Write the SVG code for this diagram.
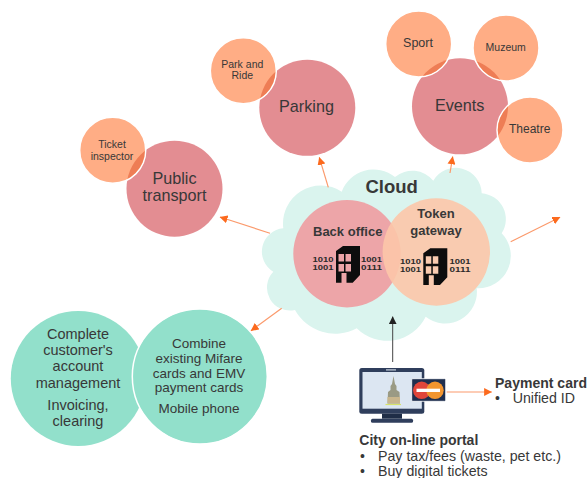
<svg xmlns="http://www.w3.org/2000/svg" xmlns:xlink="http://www.w3.org/1999/xlink" width="587" height="478" viewBox="0 0 587 478">
<style>
text{font-family:"Liberation Sans",Arial,sans-serif;fill:#383838;text-anchor:middle}
.big{fill:#e38d92}
.small{fill:#ffad85;stroke:#fff;stroke-width:1.5}
.lens{fill:#ee7d55}
.green{fill:#92e0cb}
.b{font-weight:700}
.l{text-anchor:start}
.bin{font-size:7.6px;font-weight:700;fill:#2a2a2a}
.con{fill:none;stroke:#fb9a6c;stroke-width:1.2}
</style>
<defs>
<marker id="ah" viewBox="0 0 10 10" refX="9.5" refY="5" markerWidth="8" markerHeight="8" markerUnits="userSpaceOnUse" orient="auto"><path d="M0 0L10 5L0 10Z" fill="#fc6a1e"/></marker>
<marker id="ak" viewBox="0 0 10 10" refX="9.5" refY="5" markerWidth="8" markerHeight="8" markerUnits="userSpaceOnUse" orient="auto"><path d="M0 0L10 5L0 10Z" fill="#222"/></marker>
<clipPath id="cPT"><circle cx="174.5" cy="188.7" r="48"/></clipPath>
<clipPath id="cPK"><circle cx="307.3" cy="107.8" r="48"/></clipPath>
<clipPath id="cEV"><circle cx="460" cy="106.3" r="48"/></clipPath>
<g id="bld">
<path fill-rule="evenodd" fill="#0d0d0d" d="M0 5L7 0H24V29L16.700 36.700H10.500V27H5.500V36.700H0ZM2.500 8V15.500H8V8ZM9.500 8V15.500H15V8ZM2.500 18V25.500H8V18ZM9.500 18V25.500H15V18Z"/>
</g>
</defs>

<g id="public-transport">
<circle class="big" cx="174.500" cy="188.700" r="48"/>
<text font-size="16.200" x="174.500" y="184.300">Public</text>
<text font-size="16.200" x="174.500" y="201">transport</text>
</g>
<g id="ticket-inspector">
<circle class="small" cx="112.700" cy="150.300" r="33"/>
<circle class="lens" cx="112.700" cy="150.300" r="32.200" clip-path="url(#cPT)"/>
<text font-size="10.500" x="112" y="148.300">Ticket</text>
<text font-size="10.500" x="112" y="159.700">inspector</text>
</g>
<g id="parking">
<circle class="big" cx="307.300" cy="107.800" r="48"/>
<text font-size="16.200" x="306.500" y="112.300">Parking</text>
</g>
<g id="park-and-ride">
<circle class="small" cx="243.300" cy="70.700" r="33"/>
<circle class="lens" cx="243.300" cy="70.700" r="32.200" clip-path="url(#cPK)"/>
<text font-size="10.500" x="242.300" y="67.700">Park and</text>
<text font-size="10.500" x="242.300" y="79">Ride</text>
</g>
<g id="events">
<circle class="big" cx="460" cy="106.300" r="48"/>
<text font-size="16.200" x="459.700" y="111">Events</text>
</g>
<g id="sport">
<circle class="small" cx="418.700" cy="44" r="33"/>
<circle class="lens" cx="418.700" cy="44" r="32.200" clip-path="url(#cEV)"/>
<text font-size="12.500" x="418" y="47">Sport</text>
</g>
<g id="muzeum">
<circle class="small" cx="506" cy="48" r="33"/>
<circle class="lens" cx="506" cy="48" r="32.200" clip-path="url(#cEV)"/>
<text font-size="10.500" x="505.700" y="51">Muzeum</text>
</g>
<g id="theatre">
<circle class="small" cx="530" cy="130" r="33"/>
<circle class="lens" cx="530" cy="130" r="32.200" clip-path="url(#cEV)"/>
<text font-size="12" x="529.700" y="133.300">Theatre</text>
</g>

<g id="cloud">
<path fill="#daf4ee" d="M283.300 228.300A38 38 0 0 1 341.700 191.700A34 34 0 0 1 395 177A27 27 0 0 1 433.300 180.700A26 26 0 0 1 481.700 193.300A26 26 0 0 1 501.700 233.300A32.500 32.500 0 0 1 476.700 288.300A31.600 31.600 0 0 1 425.700 316.700A43 43 0 0 1 356.700 328.300A46 46 0 0 1 295 310A23 23 0 0 1 273.300 271.700A23.400 23.400 0 0 1 283.300 228.300Z"/>
<text class="b" font-size="18.500" x="391.700" y="193.300">Cloud</text>
</g>
<g id="back-office">
<circle cx="347" cy="253.700" r="53.700" fill="#eda5a8"/>
<text class="b" font-size="13" x="347.700" y="236">Back office</text>
<text class="bin" x="323" y="261.700" textLength="21" lengthAdjust="spacingAndGlyphs">1010</text>
<text class="bin" x="323" y="270.300" textLength="21" lengthAdjust="spacingAndGlyphs">1001</text>
<text class="bin" x="371.500" y="261.700" textLength="21" lengthAdjust="spacingAndGlyphs">1001</text>
<text class="bin" x="371.500" y="270.300" textLength="21" lengthAdjust="spacingAndGlyphs">0111</text>
<use xlink:href="#bld" href="#bld" x="336" y="246"/>
</g>
<g id="token-gateway">
<circle cx="436.300" cy="252" r="53.700" fill="#fcc7a9" fill-opacity="0.9"/>
<text class="b" font-size="13" x="436" y="218">Token</text>
<text class="b" font-size="13" x="436" y="235">gateway</text>
<text class="bin" x="410.500" y="263.700" textLength="21" lengthAdjust="spacingAndGlyphs">1010</text>
<text class="bin" x="410.500" y="272.300" textLength="21" lengthAdjust="spacingAndGlyphs">1001</text>
<text class="bin" x="460" y="263.700" textLength="21" lengthAdjust="spacingAndGlyphs">1001</text>
<text class="bin" x="460" y="272.300" textLength="21" lengthAdjust="spacingAndGlyphs">0111</text>
<use xlink:href="#bld" href="#bld" x="423.300" y="248.300"/>
</g>

<g id="account-management">
<circle class="green" cx="78.300" cy="378.500" r="67.500"/>
<text font-size="14.500" x="78" y="339.300">Complete</text>
<text font-size="14.500" x="78" y="355">customer's</text>
<text font-size="14.500" x="78" y="371">account</text>
<text font-size="14.500" x="78" y="387.700">management</text>
<text font-size="14.500" x="78" y="410">Invoicing,</text>
<text font-size="14.500" x="78" y="426">clearing</text>
</g>
<g id="combine-cards">
<circle class="green" cx="199.800" cy="376.500" r="67.500" stroke="#fff" stroke-width="1.500"/>
<text font-size="13.500" x="199" y="348.300">Combine</text>
<text font-size="13.500" x="199" y="363.300">existing Mifare</text>
<text font-size="13.500" x="199" y="377.700">cards and EMV</text>
<text font-size="13.500" x="199" y="392.300">payment cards</text>
<text font-size="13.500" x="199" y="413.300">Mobile phone</text>
</g>

<g id="city-portal">
<rect x="359.300" y="368" width="65" height="45.700" rx="2.500" fill="#2f3e5c"/>
<rect x="362.500" y="372" width="59.300" height="36.700" fill="#dce6f2"/>
<rect x="386" y="369.300" width="10" height="1.200" fill="#c9d3e0"/>
<rect x="382" y="413.700" width="20" height="5" fill="#1f2d47"/>
<rect x="371" y="418.700" width="42" height="4" rx="1.500" fill="#2f3e5c"/>
<path d="M393.500 376L395 384L396.500 386V390L399.500 392L400 403.500H387.500L388 392L390.500 390V386L392 384Z" fill="#9a9a84"/>
<path d="M387.500 397H400V403.500H387.500Z" fill="#c9b68d"/>
<path d="M385.500 404.500H401" stroke="#d8e36a" stroke-width="1.200"/>
<rect x="411.700" y="378.700" width="34" height="22.600" rx="1" fill="#1f2f4f" stroke="#fff" stroke-width="0.800"/>
<circle cx="421.700" cy="390.300" r="8.700" fill="#e0453a"/>
<circle cx="435" cy="390.300" r="8.700" fill="#f2952f"/>
<rect x="416.500" y="388.700" width="23.500" height="3.300" fill="#fff"/>
<text class="b l" font-size="14" x="359.300" y="445" textLength="119">City on-line portal</text>
<text class="l" font-size="14" x="360" y="460.700">•</text>
<text class="l" font-size="14.200" x="378" y="460.700">Pay tax/fees (waste, pet etc.)</text>
<text class="l" font-size="14" x="360" y="475.700">•</text>
<text class="l" font-size="14.200" x="378" y="475.700">Buy digital tickets</text>
</g>
<g id="payment-card">
<text class="b l" font-size="14" x="495" y="388" textLength="92">Payment card</text>
<text class="l" font-size="14" x="495" y="402.700">•</text>
<text class="l" font-size="14.200" x="512.700" y="402.700">Unified ID</text>
</g>

<g id="connectors">
<line class="con" x1="270" y1="233.300" x2="220" y2="217" marker-end="url(#ah)"/>
<line class="con" x1="328.300" y1="187.300" x2="319.300" y2="157.300" marker-end="url(#ah)"/>
<line class="con" x1="450" y1="173" x2="452.700" y2="156.700" marker-end="url(#ah)"/>
<line class="con" x1="510.700" y1="241.700" x2="560" y2="217.300" marker-end="url(#ah)"/>
<line class="con" x1="281.700" y1="308.300" x2="251" y2="330.700" marker-end="url(#ah)"/>
<line x1="392.700" y1="362" x2="392.700" y2="316.700" stroke="#444" stroke-width="1" marker-end="url(#ak)"/>
<line class="con" x1="446.700" y1="392" x2="491.700" y2="392" marker-end="url(#ah)"/>
</g>
</svg>
